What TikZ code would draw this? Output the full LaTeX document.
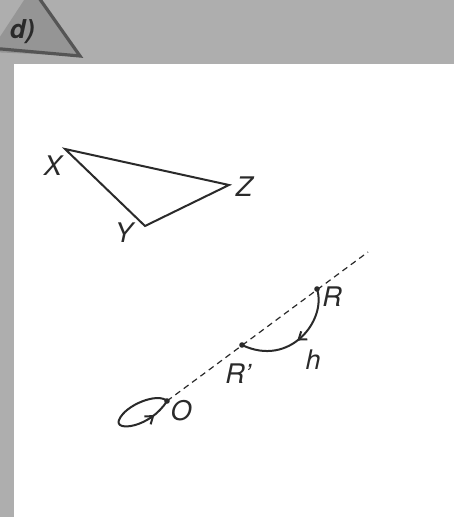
\documentclass[tikz,border=0pt]{standalone}
\usepackage{fontspec}
\setmainfont{TeX Gyre Heros}
\usetikzlibrary{arrows.meta,decorations.markings}
\definecolor{paper}{HTML}{AEAEAE}
\definecolor{tab}{HTML}{959595}
\definecolor{ink}{HTML}{2A2A2A}

\tikzset{
  lbl/.style={font=\fontsize{13.5}{15}\selectfont\itshape, text=ink, inner sep=0pt},
  side/.style={line width=1pt, draw=ink, line join=miter},
  dot/.style={circle, fill=ink, inner sep=0pt, minimum size=2.8pt},
  turn/.style={line width=1pt, draw=ink, postaction=decorate,
    decoration={markings, mark=at position #1 with {\arrow{Straight Barb[length=3.5pt,width=5pt]}}}},
}

\begin{document}
\begin{tikzpicture}[x=0.5pt,y=-0.5pt]
  \useasboundingbox (0,0) rectangle (454,517);
  \clip (0,0) rectangle (454,517);

  % grey page and white panel
  \fill[paper] (0,0) rectangle (454,517);
  \fill[white] (14,64) rectangle (454,517);

  % corner tab
  \fill[tab] (-10,52) -- (32,-12) -- (80,56) -- cycle;
  \draw[ink!80, line width=1.6pt] (32,-12) -- (80,56) -- (-10,48);
  \node[font=\fontsize{13}{15}\selectfont\bfseries\itshape, text=ink] (tabname) at (22,32) {d)};

  % triangle XYZ
  \coordinate (X) at (65,149);
  \coordinate (Z) at (229,185);
  \coordinate (Y) at (145,226);
  \draw[side] (X) -- (Z) -- (Y) -- cycle;
  \node[lbl] (xl) at (53,166) {X};
  \node[lbl] (zl) at (244,187) {Z};
  \node[lbl] (yl) at (124,233) {Y};

  % line through O with R and R'
  \node[dot] (O) at (167,401) {};
  \node[dot] (R) at (317,289) {};
  \node[dot] (Rp) at (242,345) {};
  \coordinate (far) at (368,252);
  \draw[ink, line width=0.6pt, dash pattern=on 3pt off 2.2pt] (O.center) -- (far);

  % half turn R -> R'
  \draw[turn=0.5] (R.center) .. controls (327,320) and (290,368) .. (Rp.center);
  \node[lbl] (rl) at (332,297) {R};
  \node[lbl] (rpl) at (238,374) {R'};
  \node[lbl] (hl) at (313,360) {h};

  % loop at O
  \draw[turn=0.84] (O.center) .. controls (158,392) and (125,405) .. (119,420)
    .. controls (114,432) and (150,428) .. (O.center);
  \node[lbl] (ol) at (181,411) {O};
\end{tikzpicture}
\end{document}
